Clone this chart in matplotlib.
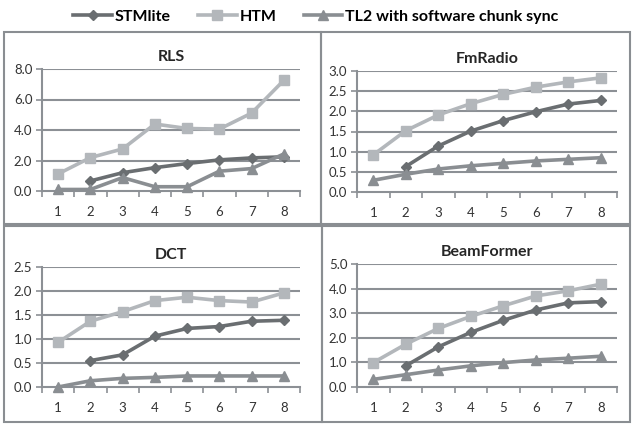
import matplotlib.pyplot as plt
from matplotlib.patches import Rectangle

plt.rcParams['font.family'] = ['Lato', 'DejaVu Sans']

threads = [1, 2, 3, 4, 5, 6, 7, 8]

# speedups per benchmark (None = no point)
rls_stm = [None, 0.66, 1.20, 1.53, 1.80, 2.04, 2.17, 2.24]
rls_htm = [1.12, 2.19, 2.76, 4.39, 4.10, 4.06, 5.11, 7.26]
rls_tl2 = [0.10, 0.10, 0.88, 0.28, 0.28, 1.30, 1.47, 2.43]

fm_stm = [None, 0.63, 1.14, 1.51, 1.77, 1.99, 2.18, 2.27]
fm_htm = [0.92, 1.52, 1.91, 2.19, 2.42, 2.60, 2.73, 2.83]
fm_tl2 = [0.29, 0.44, 0.57, 0.65, 0.71, 0.77, 0.81, 0.85]

dct_stm = [None, 0.55, 0.67, 1.06, 1.22, 1.26, 1.37, 1.39]
dct_htm = [0.93, 1.37, 1.57, 1.80, 1.87, 1.80, 1.77, 1.96]
dct_tl2 = [0.00, 0.13, 0.18, 0.20, 0.23, 0.23, 0.23, 0.23]

bf_stm = [None, 0.86, 1.63, 2.22, 2.71, 3.13, 3.42, 3.47]
bf_htm = [0.99, 1.74, 2.38, 2.87, 3.30, 3.70, 3.91, 4.18]
bf_tl2 = [0.31, 0.50, 0.69, 0.86, 0.99, 1.10, 1.17, 1.25]

series_names = ['STMlite', 'HTM', 'TL2 with software chunk sync']
colours = ['#6a6e71', '#b3b7bb', '#8a8e92']
markers = ['D', 's', '^']
msizes = [5.5, 6.5, 7]

W, H = 632, 424
fig = plt.figure(figsize=(W / 100, H / 100), dpi=100)

def fx(px):
    return px / W

def fy(py):
    return 1 - py / H

# panel borders (pixel boxes)
boxes = [(4, 32, 321, 224), (321, 32, 630, 224), (4, 226, 322, 422), (322, 226, 630, 422)]
for x0, y0, x1, y1 in boxes:
    fig.patches.append(Rectangle((fx(x0), fy(y1)), fx(x1 - x0), (y1 - y0) / H,
                                 transform=fig.transFigure, fill=False,
                                 edgecolor='#8a8e92', lw=1.5))

panels = [
    ('RLS', (42, 69, 300, 191), 8.0, 2.0, (rls_stm, rls_htm, rls_tl2)),
    ('FmRadio', (357, 71, 617, 192), 3.0, 0.5, (fm_stm, fm_htm, fm_tl2)),
    ('DCT', (42, 267, 300, 387), 2.5, 0.5, (dct_stm, dct_htm, dct_tl2)),
    ('BeamFormer', (357, 264, 617, 387), 5.0, 1.0, (bf_stm, bf_htm, bf_tl2)),
]

grid_c = '#8c9095'
handles = []
for title, (x0, y0, x1, y1), ymax, step, data in panels:
    ax = fig.add_axes([fx(x0), fy(y1), fx(x1 - x0), (y1 - y0) / H])
    handles = []
    for vals, name, c, m, ms in zip(data, series_names, colours, markers, msizes):
        xs = [t for t, v in zip(threads, vals) if v is not None]
        ys = [v for v in vals if v is not None]
        h, = ax.plot(xs, ys, color=c, lw=2.6, marker=m, markersize=ms,
                     markerfacecolor=c, markeredgecolor=c, label=name, clip_on=False,
                     zorder=3)
        handles.append(h)
    ax.set_xlim(0.5, 8.5)
    ax.set_ylim(0, ymax)
    n = int(round(ymax / step))
    yt = [i * step for i in range(n + 1)]
    ax.set_yticks(yt)
    ax.set_yticklabels([f'{v:.1f}' for v in yt])
    ax.set_xticks([i + 0.5 for i in range(9)])
    ax.set_xticklabels([])
    ax.set_xticks(threads, minor=True)
    ax.set_xticklabels([str(t) for t in threads], minor=True)
    ax.tick_params(axis='x', which='minor', length=0, pad=11, labelsize=9.5, labelcolor='#333333')
    ax.tick_params(axis='x', which='major', length=4, width=1.2, color=grid_c)
    ax.tick_params(axis='y', length=4, width=1.2, color=grid_c, labelsize=9.5,
                   labelcolor='#333333', pad=3)
    for v in yt[1:]:
        ax.axhline(v, color=grid_c, lw=1.5, zorder=1)
    for s in ['top', 'right']:
        ax.spines[s].set_visible(False)
    for s in ['left', 'bottom']:
        ax.spines[s].set_color(grid_c)
        ax.spines[s].set_linewidth(1.5)
    ax.set_title(title, fontsize=11.5, fontweight='bold', color='#262626', pad=6)

fig.legend(handles=handles, labels=series_names, loc='center', bbox_to_anchor=(0.5, fy(17)),
           ncol=3, frameon=False, handlelength=2.4, columnspacing=1.7, handletextpad=0.2,
           prop={'size': 11.5, 'weight': 'bold'})

fig.savefig('out.png', dpi=100)
